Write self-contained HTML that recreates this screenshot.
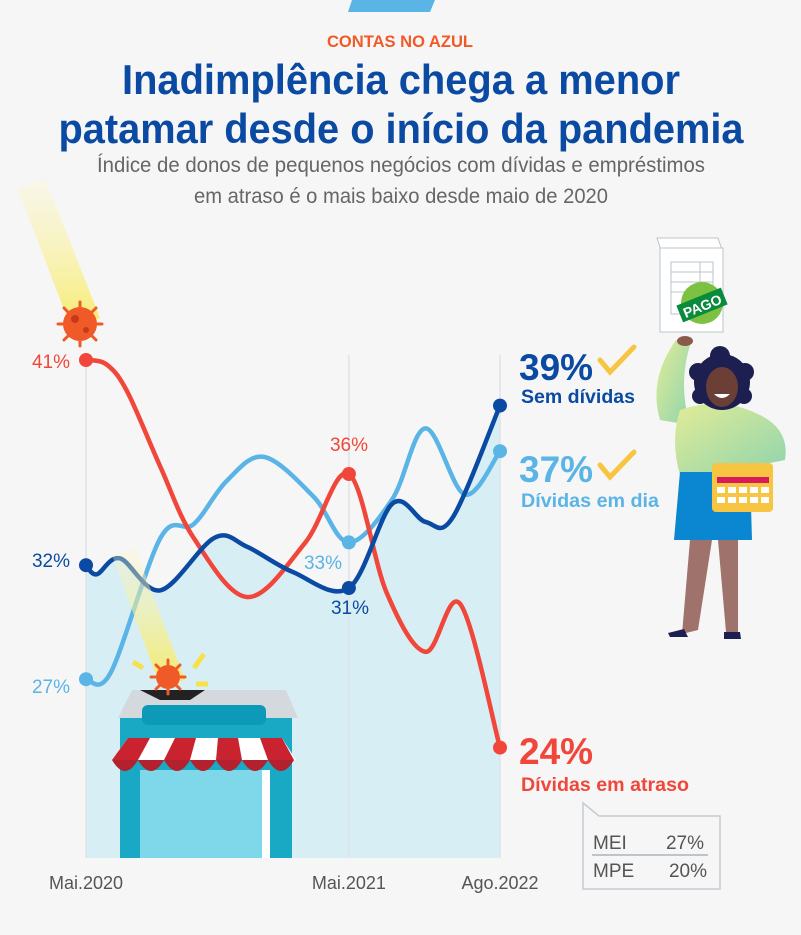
<!DOCTYPE html>
<html><head><meta charset="utf-8">
<style>
html,body{margin:0;padding:0;background:#f6f6f6;}
svg{display:block;font-family:"Liberation Sans",sans-serif;}
</style></head>
<body>
<svg id="chart" width="801" height="935" viewBox="0 0 801 935" xmlns="http://www.w3.org/2000/svg">
<defs>
<linearGradient id="beam" x1="0" y1="0" x2="0" y2="1"><stop offset="0" stop-color="#fbf6c8" stop-opacity="0.3"/><stop offset="1" stop-color="#f7ea5a" stop-opacity="0.9"/></linearGradient>
<linearGradient id="sweater" x1="0" y1="0" x2="1" y2="1"><stop offset="0" stop-color="#e2ec96"/><stop offset="1" stop-color="#8fd4ae"/></linearGradient>
</defs>
<rect width="801" height="935" fill="#f6f6f6"/>
<polygon points="352,0 435,0 430,12 348,12" fill="#5bb4e6"/>
<text x="400" y="47" text-anchor="middle" font-size="17" font-weight="bold" fill="#f05a28" textLength="146" lengthAdjust="spacingAndGlyphs">CONTAS NO AZUL</text>
<text x="401" y="94" text-anchor="middle" font-size="42" font-weight="bold" fill="#0b4aa2" textLength="558" lengthAdjust="spacingAndGlyphs">Inadimplência chega a menor</text>
<text x="401" y="143" text-anchor="middle" font-size="42" font-weight="bold" fill="#0b4aa2" textLength="685" lengthAdjust="spacingAndGlyphs">patamar desde o início da pandemia</text>
<text x="401" y="172" text-anchor="middle" font-size="21" fill="#666" textLength="608" lengthAdjust="spacingAndGlyphs">Índice de donos de pequenos negócios com dívidas e empréstimos</text>
<text x="401" y="203" text-anchor="middle" font-size="21" fill="#666" textLength="414" lengthAdjust="spacingAndGlyphs">em atraso é o mais baixo desde maio de 2020</text>

<polygon points="18,190 45,178 100,318 72,330" fill="url(#beam)"/>
<g id="plot"></g>
<g id="store">
<polygon points="112,555 135,548 185,680 160,686" fill="url(#beam)"/>
<polygon points="118,718 132,690 286,690 298,718" fill="#d4d9dd"/>
<rect x="120" y="718" width="172" height="140" fill="#19a9c4"/>
<rect x="142" y="705" width="124" height="20" rx="6" fill="#0d9ab8"/>
<rect x="140" y="770" width="130" height="88" fill="#7fd8ea"/>
<rect x="262" y="770" width="8" height="88" fill="#ffffff"/>
<path d="M112,760 L128,738 L282,738 L296,760 Z" fill="#ffffff"/>
<path d="M112,760 q13,22 26,0 q13,22 26,0 q13,22 26,0 q13,22 26,0 q13,22 26,0 q13,22 26,0 q13,22 26,0" fill="#b3202e"/>
<polygon points="128,738 150,738 138,760 112,760" fill="#c8232f"/>
<polygon points="175,738 196,738 190,760 164,760" fill="#c8232f"/>
<polygon points="218,738 238,738 242,760 216,760" fill="#c8232f"/>
<polygon points="260,738 282,738 294,760 268,760" fill="#c8232f"/>
<polygon points="140,690 205,690 190,700 160,700" fill="#222"/>
<circle cx="168" cy="677" r="12" fill="#f05a28"/>
<path d="M168,660 v4 M168,690 v4 M151,677 h4 M181,677 h4 M156,665 l3,3 M177,686 l3,3 M180,665 l-3,3 M156,689 l3,-3" stroke="#f05a28" stroke-width="3" stroke-linecap="round"/>
<path d="M194,668 l10,-14 M196,684 l12,0 M143,668 l-10,-6" stroke="#f7e14a" stroke-width="5"/>
</g>
<g id="virus-top">
<circle cx="80" cy="324" r="17" fill="#f05a28"/>
<circle cx="75" cy="319" r="4" fill="#c73a18"/><circle cx="86" cy="330" r="3" fill="#c73a18"/>
<path d="M80,302 v5 M80,341 v5 M58,324 h5 M97,324 h5 M64,308 l4,4 M92,336 l4,4 M96,308 l-4,4 M64,340 l4,-4" stroke="#f05a28" stroke-width="3" stroke-linecap="round"/>
</g>

<g id="woman">
<polygon points="657,238 718,238 722,250 661,250" fill="#fff" stroke="#b9c4cc"/>
<rect x="660" y="248" width="63" height="84" fill="#fff" stroke="#b9c4cc"/>
<rect x="671" y="262" width="42" height="52" fill="none" stroke="#b9c4cc"/>
<path d="M671,272h42M671,282h42M671,292h42M700,262v30" stroke="#b9c4cc"/>
<circle cx="702" cy="303" r="21" fill="#7cc142"/>
<g transform="rotate(-22 702 305)"><rect x="678" y="296" width="48" height="18" fill="#0a8a3c"/><text x="702" y="311" text-anchor="middle" font-size="14" font-weight="bold" fill="#fff">PAGO</text></g>
<path d="M676,340 Q648,380 660,420 L690,425 Q678,385 690,345 Z" fill="url(#sweater)"/>
<ellipse cx="685" cy="341" rx="8" ry="5" fill="#8a5a4a"/>
<path d="M680,410 Q720,395 760,415 Q790,430 785,460 L760,465 L752,475 L680,475 Q670,440 680,410 Z" fill="url(#sweater)"/>
<circle cx="722" cy="382" r="28" fill="#1c1f4f"/>
<circle cx="698" cy="372" r="9" fill="#1c1f4f"/><circle cx="745" cy="372" r="9" fill="#1c1f4f"/><circle cx="720" cy="356" r="10" fill="#1c1f4f"/><circle cx="700" cy="396" r="8" fill="#1c1f4f"/><circle cx="744" cy="396" r="8" fill="#1c1f4f"/>
<ellipse cx="722" cy="387" rx="16" ry="20" fill="#6b3f35"/>
<path d="M714,394 q8,8 16,0 z" fill="#fff"/>
<polygon points="680,472 750,472 752,540 674,540" fill="#0a87d0"/>
<polygon points="690,540 712,540 698,630 682,634" fill="#a0726c"/>
<polygon points="718,540 738,540 738,632 726,632" fill="#a0726c"/>
<path d="M668,633 l16,-4 l4,8 l-18,0 z M724,632 l16,0 l1,7 l-17,0 z" fill="#1c1f4f"/>
<rect x="712" y="463" width="61" height="49" rx="4" fill="#f8c542"/>
<rect x="717" y="477" width="52" height="6" fill="#d81b5a"/>
<g fill="#fff"><rect x="717" y="487" width="8" height="6"/><rect x="728" y="487" width="8" height="6"/><rect x="739" y="487" width="8" height="6"/><rect x="750" y="487" width="8" height="6"/><rect x="761" y="487" width="8" height="6"/>
<rect x="717" y="497" width="8" height="6"/><rect x="728" y="497" width="8" height="6"/><rect x="739" y="497" width="8" height="6"/><rect x="750" y="497" width="8" height="6"/><rect x="761" y="497" width="8" height="6"/></g>
</g>

<g>
<text x="519" y="380" font-size="37" font-weight="bold" fill="#0b4aa2">39%</text>
<path d="M600,360 l10,12 l24,-25" stroke="#f8c542" stroke-width="5" fill="none" stroke-linecap="round"/>
<text x="521" y="403" font-size="19" font-weight="bold" fill="#0b4aa2" textLength="114" lengthAdjust="spacingAndGlyphs">Sem dívidas</text>
</g>
<g>
<text x="519" y="482" font-size="37" font-weight="bold" fill="#5bb4e6">37%</text>
<path d="M600,465 l10,12 l24,-25" stroke="#f8c542" stroke-width="5" fill="none" stroke-linecap="round"/>
<text x="521" y="507" font-size="19" font-weight="bold" fill="#5bb4e6" textLength="138" lengthAdjust="spacingAndGlyphs">Dívidas em dia</text>
</g>
<g>
<text x="519" y="764" font-size="37" font-weight="bold" fill="#f0473a">24%</text>
<text x="521" y="791" font-size="19" font-weight="bold" fill="#f0473a" textLength="168" lengthAdjust="spacingAndGlyphs">Dívidas em atraso</text>
</g>
<g>
<path d="M583,803 L599,816 L720,816 L720,889 L583,889 Z" fill="#f6f6f6" stroke="#c3ccd3" stroke-width="1.5"/>
<line x1="592" y1="855" x2="708" y2="855" stroke="#aab4bb" stroke-width="1.5"/>
<text x="593" y="849" font-size="19" fill="#555">MEI</text><text x="704" y="849" font-size="19" fill="#555" text-anchor="end">27%</text>
<text x="593" y="877" font-size="19" fill="#555">MPE</text><text x="707" y="877" font-size="19" fill="#555" text-anchor="end">20%</text>
</g>
</svg>
<script>
const tLabels = ["Mai.2020","Mai.2021","Ago.2022"];
const tLabelPos = [0, 63.5, 100];
const redT = [0,5,10,18,26,39,53,63.5,72.6,82,90.4,100];
const redV = [41,40.8,39.6,36.3,33.2,30.6,33,36,30.8,28.2,30.3,24];
const lightT = [0,6,18,26,34,43,55,63.5,74,82,91.5,100];
const lightV = [27,27.3,33.2,33.8,35.7,36.75,35,33,34.9,38,35.1,37];
const darkT = [0,2.6,8.2,18,31,39,50,63.5,74,82,88.6,100];
const darkV = [32,31.6,32.3,30.9,33.2,32.8,31.7,31,34.7,33.9,34.1,39];

const NS="http://www.w3.org/2000/svg";
const X0=86, X1=500, BASE=858;
function xs(t){return X0+(X1-X0)*t/100;}
function ys(v){return 360+(41-v)*22.8;}
function mk(tag,attrs){const e=document.createElementNS(NS,tag);for(const k in attrs)e.setAttribute(k,attrs[k]);return e;}
function pathD(T,V){
  const p=T.map((t,i)=>[xs(t),ys(V[i])]);
  let d="M"+p[0][0]+","+p[0][1];
  for(let i=0;i<p.length-1;i++){
    const p0=p[Math.max(0,i-1)],p1=p[i],p2=p[i+1],p3=p[Math.min(p.length-1,i+2)];
    const c1=[p1[0]+(p2[0]-p0[0])/6,p1[1]+(p2[1]-p0[1])/6];
    const c2=[p2[0]-(p3[0]-p1[0])/6,p2[1]-(p3[1]-p1[1])/6];
    d+=" C"+c1[0]+","+c1[1]+" "+c2[0]+","+c2[1]+" "+p2[0]+","+p2[1];
  }
  return d;
}
const plot=document.getElementById('plot');
const area=mk('path',{d:pathD(darkT,darkV)+" L"+xs(100)+","+BASE+" L"+xs(0)+","+BASE+" Z",fill:"#d8eef5"});


plot.appendChild(area);
tLabelPos.forEach((t,i)=>{
  const g=mk('line',{x1:xs(t),x2:xs(t),y1:355,y2:BASE,stroke:"#dfe3e6","stroke-width":1.5});
  
  
  plot.appendChild(g);
  const tx=mk('text',{x:xs(t),y:889,"text-anchor":"middle","font-size":18,fill:"#555"});
  tx.textContent=tLabels[i];
  
  
  plot.appendChild(tx);
});
const series=[[lightT,lightV,"#5bb4e6","line-dividas-em-dia"],[redT,redV,"#f0473a","line-dividas-em-atraso"],[darkT,darkV,"#0b4aa2","line-sem-dividas"]];
series.forEach(s=>{
  const l=mk('path',{d:pathD(s[0],s[1]),fill:"none",stroke:s[2],"stroke-width":4.5,"stroke-linecap":"round"});
  
  
  plot.appendChild(l);
  [0,63.5,100].forEach(t=>{
    const i=s[0].indexOf(t);
    const c=mk('circle',{cx:xs(t),cy:ys(s[1][i]),r:7,fill:s[2]});
    
    
    plot.appendChild(c);
  });
});
function lab(txt,x,y,col,anchor){
  const t=mk('text',{x:x,y:y,"font-size":19,fill:col,"text-anchor":anchor||"start"});
  t.textContent=txt;
  
  
  plot.appendChild(t);
}
lab(redV[0]+"%",70,368,"#f0473a","end");
lab(darkV[0]+"%",70,567,"#0b4aa2","end");
lab(lightV[0]+"%",70,693,"#5bb4e6","end");
lab(redV[7]+"%",349,451,"#f0473a","middle");
lab(lightV[7]+"%",342,569,"#5bb4e6","end");
lab(darkV[7]+"%",350,614,"#0b4aa2","middle");
</script>
</body></html>
